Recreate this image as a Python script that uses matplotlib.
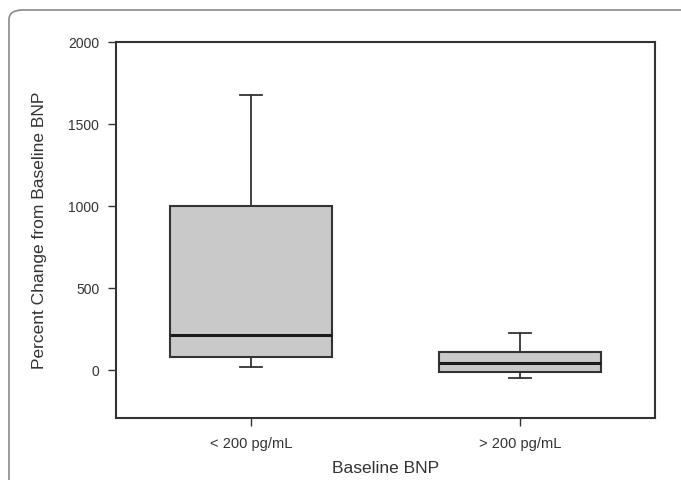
import matplotlib
matplotlib.use('Agg')
import matplotlib.pyplot as plt
from matplotlib.patches import FancyBboxPatch

plt.rcParams['font.family'] = ['Liberation Sans', 'DejaVu Sans']

# box statistics
groups = ['< 200 pg/mL', '> 200 pg/mL']
whislo = [22, -48]
q1 = [82, -12]
med = [215, 42]
q3 = [1000, 112]
whishi = [1680, 228]

stats = []
for i in range(len(groups)):
    stats.append({'label': groups[i], 'whislo': whislo[i], 'q1': q1[i],
                  'med': med[i], 'q3': q3[i], 'whishi': whishi[i], 'fliers': []})

fig = plt.figure(figsize=(6.81, 4.80), dpi=100)
# rounded frame around the figure
frame = FancyBboxPatch((9 / 681, -0.05), 1.2, 1.05 - 10 / 480,
                       boxstyle='round,pad=0,rounding_size=0.02',
                       transform=fig.transFigure, facecolor='none',
                       edgecolor='#8a8a8a', linewidth=1.2)
fig.patches.append(frame)

ax = fig.add_axes([116 / 681, 1 - 418 / 480, (655 - 116) / 681, (418 - 42) / 480])

ax.bxp(stats, positions=[1, 2], widths=0.6, capwidths=0.08, patch_artist=True,
       showfliers=False,
       boxprops=dict(facecolor='#c9c9c9', edgecolor='#333333', linewidth=1.5),
       medianprops=dict(color='#1a1a1a', linewidth=2.2),
       whiskerprops=dict(color='#333333', linewidth=1.3),
       capprops=dict(color='#333333', linewidth=1.3))

ax.set_xlim(0.5, 2.5)
ax.set_ylim(-290, 2000)
ax.set_yticks([0, 500, 1000, 1500, 2000])
ax.set_xticks([1, 2])
ax.set_xticklabels(groups)
ax.tick_params(axis='both', direction='out', length=6, width=1.0, colors='#333333',
               labelsize=10, labelcolor='#333333')
ax.tick_params(axis='y', pad=6)
ax.tick_params(axis='x', pad=8, labelsize=10.5)
for s in ax.spines.values():
    s.set_linewidth(1.5)
    s.set_color('#333333')

ax.set_ylabel('Percent Change from Baseline BNP', fontsize=12.5, color='#333333', labelpad=15)
ax.set_xlabel('Baseline BNP', fontsize=12.5, color='#333333', labelpad=7)

fig.savefig('out.png', dpi=100)
